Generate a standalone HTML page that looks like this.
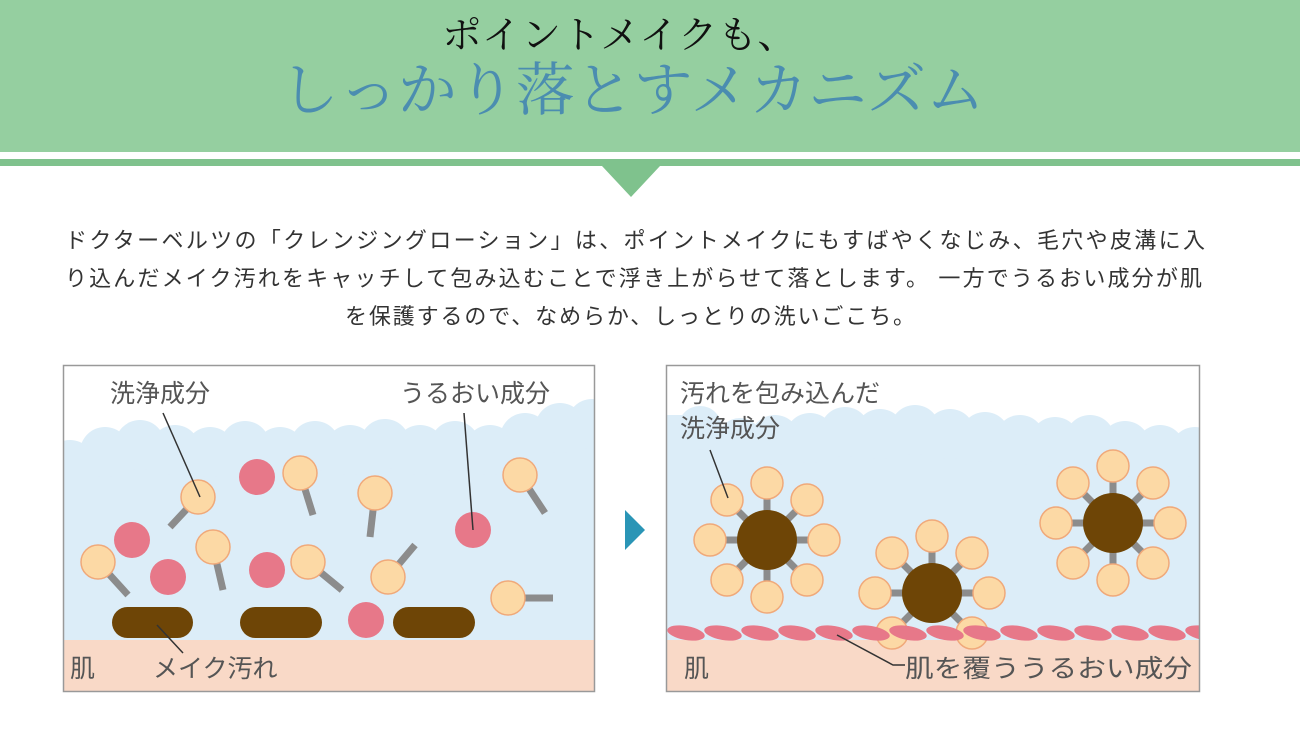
<!DOCTYPE html>
<html><head><meta charset="utf-8"><style>
html,body{margin:0;padding:0;background:#fff;}
svg{display:block;}
</style></head><body>
<svg width="1300" height="748" viewBox="0 0 1300 748" xmlns="http://www.w3.org/2000/svg">
<defs>
<clipPath id="cl"><rect x="64" y="366" width="530" height="325"/></clipPath>
<clipPath id="cr"><rect x="667" y="366" width="532" height="325"/></clipPath>
</defs>
<!-- header -->
<rect x="0" y="0" width="1300" height="152" fill="#95cfa0"/>
<rect x="0" y="159" width="1300" height="7" fill="#7fc28d"/>
<polygon points="602,166 660,166 631,197" fill="#7fc28d"/>
<text x="442" y="48" font-family="'Liberation Serif','Noto Serif CJK SC',serif" font-size="38" fill="#111" textLength="355" lengthAdjust="spacingAndGlyphs">ポイントメイクも、</text>
<text x="280" y="110" font-family="'Liberation Serif','Noto Serif CJK SC',serif" font-size="58" fill="#4b8db0" textLength="705" lengthAdjust="spacingAndGlyphs">しっかり落とすメカニズム</text>
<!-- body text -->
<g font-family="'Liberation Sans','Noto Sans CJK JP',sans-serif" font-size="22" fill="#333">
<text x="65" y="248" textLength="1140" lengthAdjust="spacing">ドクターベルツの「クレンジングローション」は、ポイントメイクにもすばやくなじみ、毛穴や皮溝に入</text>
<text x="65" y="286" textLength="1137" lengthAdjust="spacing">り込んだメイク汚れをキャッチして包み込むことで浮き上がらせて落とします。 一方でうるおい成分が肌</text>
<text x="345" y="324" textLength="570" lengthAdjust="spacing">を保護するので、なめらか、しっとりの洗いごこち。</text>
</g>

<!-- LEFT PANEL -->
<g clip-path="url(#cl)">
<rect x="64" y="366" width="530" height="325" fill="#fff"/>
<g fill="#dcedf8">
<rect x="64" y="445" width="530" height="200"/>
<circle cx="70" cy="465" r="25"/><circle cx="105" cy="452" r="25"/><circle cx="140" cy="445" r="25"/>
<circle cx="175" cy="450" r="25"/><circle cx="210" cy="452" r="25"/><circle cx="245" cy="446" r="25"/>
<circle cx="280" cy="452" r="25"/><circle cx="315" cy="446" r="25"/><circle cx="350" cy="450" r="25"/>
<circle cx="385" cy="444" r="25"/><circle cx="420" cy="450" r="25"/><circle cx="455" cy="446" r="25"/>
<circle cx="490" cy="450" r="25"/><circle cx="525" cy="438" r="25"/><circle cx="560" cy="428" r="25"/><circle cx="592" cy="424" r="25"/>
</g>
<rect x="64" y="640" width="530" height="60" fill="#f9d9c7"/>
<g stroke="#8c8c8c" stroke-width="7">
<line x1="198" y1="497" x2="170" y2="527"/>
<line x1="300" y1="473" x2="313" y2="515"/>
<line x1="375" y1="493" x2="370" y2="537"/>
<line x1="520" y1="475" x2="545" y2="513"/>
<line x1="98" y1="562" x2="128" y2="595"/>
<line x1="213" y1="547" x2="223" y2="590"/>
<line x1="308" y1="562" x2="342" y2="590"/>
<line x1="388" y1="577" x2="415" y2="545"/>
<line x1="508" y1="598" x2="553" y2="598"/>
</g>
<g fill="#fcd9a5" stroke="#f0a97a" stroke-width="1.5">
<circle cx="198" cy="497" r="17"/><circle cx="300" cy="473" r="17"/><circle cx="375" cy="493" r="17"/>
<circle cx="520" cy="475" r="17"/><circle cx="98" cy="562" r="17"/><circle cx="213" cy="547" r="17"/>
<circle cx="308" cy="562" r="17"/><circle cx="388" cy="577" r="17"/><circle cx="508" cy="598" r="17"/>
</g>
<g fill="#e77889">
<circle cx="257" cy="477" r="18"/><circle cx="132" cy="540" r="18"/><circle cx="168" cy="577" r="18"/>
<circle cx="267" cy="570" r="18"/><circle cx="473" cy="530" r="18"/><circle cx="366" cy="620" r="18"/>
</g>
<g fill="#6e4506">
<rect x="112" y="607" width="81" height="31" rx="15.5"/>
<rect x="240" y="607" width="82" height="31" rx="15.5"/>
<rect x="393" y="607" width="82" height="31" rx="15.5"/>
</g>
<g stroke="#333" stroke-width="1.5">
<line x1="163" y1="413" x2="200" y2="497"/>
<line x1="464" y1="413" x2="473" y2="530"/>
<line x1="157" y1="625" x2="183" y2="653"/>
</g>
<g font-family="'Liberation Sans','Noto Sans CJK JP',sans-serif" font-size="25" fill="#555">
<text x="110" y="402">洗浄成分</text>
<text x="400" y="402">うるおい成分</text>
<text x="70" y="677">肌</text>
<text x="153" y="677">メイク汚れ</text>
</g>
</g>
<rect x="63.5" y="365.5" width="531" height="326" fill="none" stroke="#999" stroke-width="1.5"/>

<polygon points="625,510 645,530 625,550" fill="#2a95b6"/>

<!-- RIGHT PANEL -->
<g clip-path="url(#cr)">
<rect x="667" y="366" width="532" height="325" fill="#fff"/>
<g fill="#dcedf8">
<rect x="667" y="440" width="532" height="200"/>
<rect x="667" y="415" width="20" height="40"/>
<circle cx="700" cy="428" r="22"/><circle cx="740" cy="440" r="22"/>
<circle cx="775" cy="440" r="25"/><circle cx="810" cy="438" r="25"/><circle cx="845" cy="432" r="25"/>
<circle cx="880" cy="434" r="25"/><circle cx="915" cy="430" r="25"/><circle cx="950" cy="434" r="25"/>
<circle cx="985" cy="437" r="25"/><circle cx="1020" cy="440" r="25"/><circle cx="1055" cy="442" r="25"/>
<circle cx="1090" cy="440" r="25"/><circle cx="1125" cy="446" r="25"/><circle cx="1160" cy="450" r="25"/><circle cx="1195" cy="452" r="25"/>
</g>
<rect x="667" y="640" width="532" height="60" fill="#f9d9c7"/>
<g stroke="#8c8c8c" stroke-width="7">
<line x1="767" y1="540" x2="767" y2="483"/><line x1="767" y1="540" x2="767" y2="597"/>
<line x1="767" y1="540" x2="710" y2="540"/><line x1="767" y1="540" x2="824" y2="540"/>
<line x1="767" y1="540" x2="727" y2="500"/><line x1="767" y1="540" x2="807" y2="500"/>
<line x1="767" y1="540" x2="727" y2="580"/><line x1="767" y1="540" x2="807" y2="580"/>
<line x1="1113" y1="523" x2="1113" y2="466"/><line x1="1113" y1="523" x2="1113" y2="580"/>
<line x1="1113" y1="523" x2="1056" y2="523"/><line x1="1113" y1="523" x2="1170" y2="523"/>
<line x1="1113" y1="523" x2="1073" y2="483"/><line x1="1113" y1="523" x2="1153" y2="483"/>
<line x1="1113" y1="523" x2="1073" y2="563"/><line x1="1113" y1="523" x2="1153" y2="563"/>
<line x1="932" y1="593" x2="932" y2="536"/><line x1="932" y1="593" x2="875" y2="593"/><line x1="932" y1="593" x2="989" y2="593"/>
<line x1="932" y1="593" x2="892" y2="553"/><line x1="932" y1="593" x2="972" y2="553"/>
<line x1="932" y1="593" x2="892" y2="633"/><line x1="932" y1="593" x2="972" y2="633"/>
</g>
<g fill="#fcd9a5" stroke="#f0a97a" stroke-width="1.5">
<circle cx="767" cy="483" r="16"/><circle cx="767" cy="597" r="16"/><circle cx="710" cy="540" r="16"/><circle cx="824" cy="540" r="16"/>
<circle cx="727" cy="500" r="16"/><circle cx="807" cy="500" r="16"/><circle cx="727" cy="580" r="16"/><circle cx="807" cy="580" r="16"/>
<circle cx="1113" cy="466" r="16"/><circle cx="1113" cy="580" r="16"/><circle cx="1056" cy="523" r="16"/><circle cx="1170" cy="523" r="16"/>
<circle cx="1073" cy="483" r="16"/><circle cx="1153" cy="483" r="16"/><circle cx="1073" cy="563" r="16"/><circle cx="1153" cy="563" r="16"/>
<circle cx="932" cy="536" r="16"/><circle cx="875" cy="593" r="16"/><circle cx="989" cy="593" r="16"/>
<circle cx="892" cy="553" r="16"/><circle cx="972" cy="553" r="16"/><circle cx="892" cy="633" r="16"/><circle cx="972" cy="633" r="16"/>
</g>
<circle cx="767" cy="540" r="30" fill="#6e4506"/>
<circle cx="1113" cy="523" r="30" fill="#6e4506"/>
<circle cx="932" cy="593" r="30" fill="#6e4506"/>
<g fill="#e77889">
<ellipse cx="686" cy="633" rx="19" ry="7" transform="rotate(10 686 633)"/>
<ellipse cx="723" cy="633" rx="19" ry="7" transform="rotate(10 723 633)"/>
<ellipse cx="760" cy="633" rx="19" ry="7" transform="rotate(10 760 633)"/>
<ellipse cx="797" cy="633" rx="19" ry="7" transform="rotate(10 797 633)"/>
<ellipse cx="834" cy="633" rx="19" ry="7" transform="rotate(10 834 633)"/>
<ellipse cx="871" cy="633" rx="19" ry="7" transform="rotate(10 871 633)"/>
<ellipse cx="908" cy="633" rx="19" ry="7" transform="rotate(10 908 633)"/>
<ellipse cx="945" cy="633" rx="19" ry="7" transform="rotate(10 945 633)"/>
<ellipse cx="982" cy="633" rx="19" ry="7" transform="rotate(10 982 633)"/>
<ellipse cx="1019" cy="633" rx="19" ry="7" transform="rotate(10 1019 633)"/>
<ellipse cx="1056" cy="633" rx="19" ry="7" transform="rotate(10 1056 633)"/>
<ellipse cx="1093" cy="633" rx="19" ry="7" transform="rotate(10 1093 633)"/>
<ellipse cx="1130" cy="633" rx="19" ry="7" transform="rotate(10 1130 633)"/>
<ellipse cx="1167" cy="633" rx="19" ry="7" transform="rotate(10 1167 633)"/>
<ellipse cx="1204" cy="633" rx="19" ry="7" transform="rotate(10 1204 633)"/>
</g>
<g stroke="#333" stroke-width="1.5">
<line x1="710" y1="450" x2="728" y2="498"/>
<polyline points="837,635 893,665 905,665" fill="none"/>
</g>
<g font-family="'Liberation Sans','Noto Sans CJK JP',sans-serif" font-size="25" fill="#555">
<text x="680" y="402">汚れを包み込んだ</text>
<text x="680" y="437">洗浄成分</text>
<text x="684" y="677">肌</text>
<text x="905" y="677" textLength="287" lengthAdjust="spacingAndGlyphs">肌を覆ううるおい成分</text>
</g>
</g>
<rect x="666.5" y="365.5" width="533" height="326" fill="none" stroke="#999" stroke-width="1.5"/>
</svg>
</body></html>
